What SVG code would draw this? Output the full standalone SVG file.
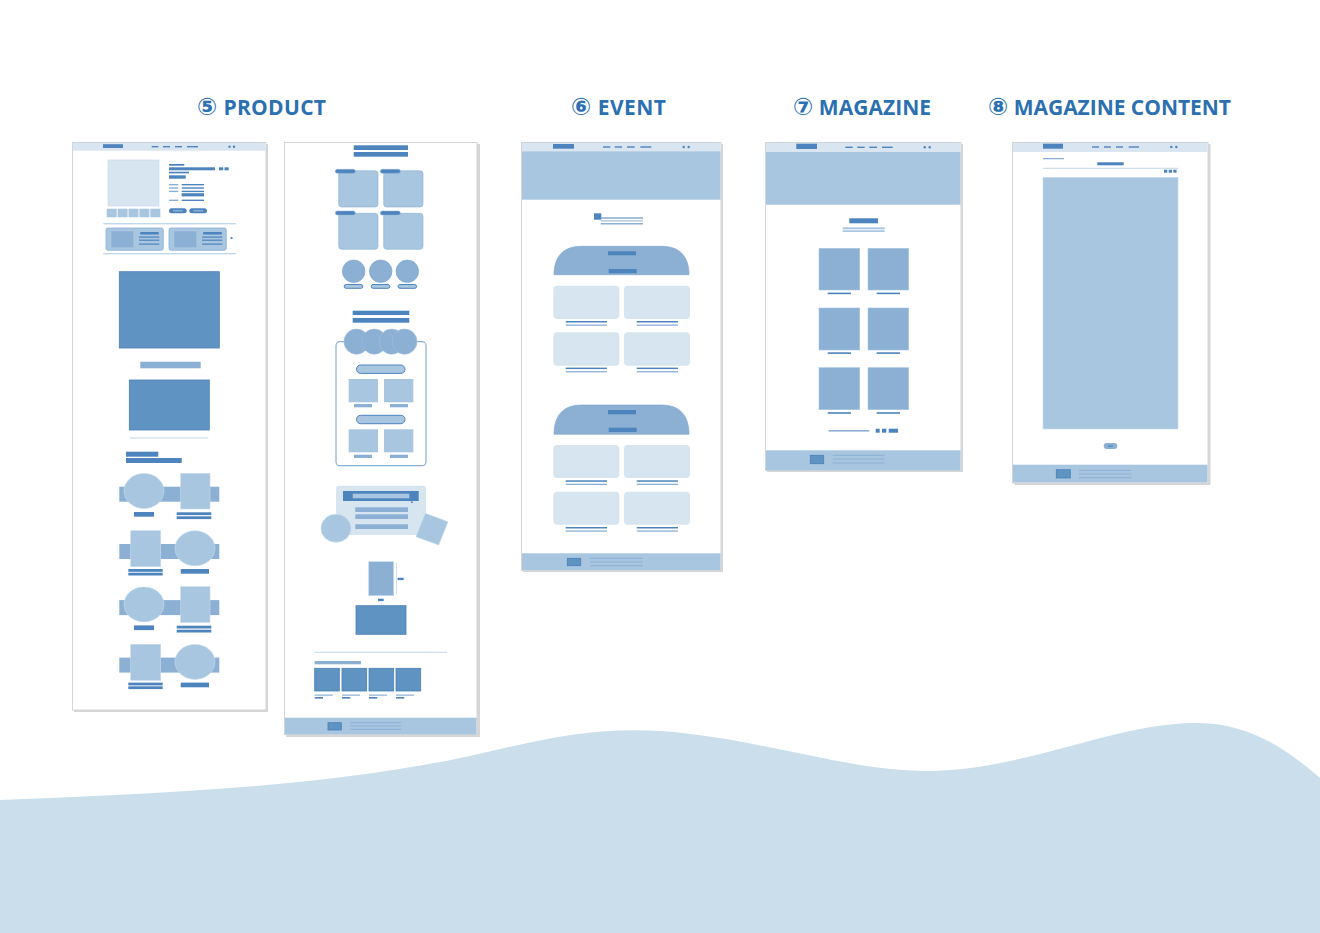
<svg xmlns="http://www.w3.org/2000/svg" width="1320" height="933" viewBox="0 0 1320 933">
  <style>
    .title { font-family: "Open Sans", "DejaVu Sans", sans-serif; font-weight: 700; font-size: 21px; fill: #2b70b0; }
    .num { font-family: "DejaVu Sans", sans-serif; font-size: 24px; font-weight: 700; }
    .shadow { fill: #d6d6d6; }
    .frame { fill: #ffffff; stroke: #d2d6da; stroke-width: 1; }
    .hd { fill: #d9e6f2; }
    .dk { fill: #4e84bd; }
    .dk2 { fill: #5f93c2; stroke: #4a80b9; stroke-width: 0.8; }
    .md { fill: #8cb0d4; }
    .lt { fill: #a8c6e0; }
    .vl { fill: #d7e5f1; }
    .foot { fill: #a8c6e0; }
    .rule { fill: #c2d7ea; }
    .pill { fill: #a8c6e0; stroke: #4e84bd; stroke-width: 1; }
  </style>

  <!-- background wave -->
  <path d="M0,800 C150,794 320,788 470,756 C540,740 590,727 660,731 C760,738 850,772 930,771 C1030,769 1110,724 1195,723 C1250,722 1290,752 1320,778 L1320,933 L0,933 Z" fill="#cadeeb"/>

  <!-- section titles -->
  <text class="title" x="197" y="115" textLength="129" lengthAdjust="spacing"><tspan class="num">⑤</tspan> PRODUCT</text>
  <text class="title" x="571" y="115" textLength="95" lengthAdjust="spacing"><tspan class="num">⑥</tspan> EVENT</text>
  <text class="title" x="793" y="115" textLength="138" lengthAdjust="spacing"><tspan class="num">⑦</tspan> MAGAZINE</text>
  <text class="title" x="988" y="115" textLength="243" lengthAdjust="spacing"><tspan class="num">⑧</tspan> MAGAZINE CONTENT</text>

  <!-- PRODUCT : detail page -->
  <g id="product-detail">
    <rect class="shadow" x="74" y="144" width="194" height="568"/>
    <rect class="frame" x="72.5" y="142.5" width="193.5" height="567.5"/>
    <rect class="hd" x="73" y="143" width="192.5" height="7.7"/>
    <rect class="dk" x="103" y="144.2" width="20" height="3.8"/>
    <rect class="dk" x="151.7" y="146" width="6.6" height="1.4"/>
    <rect class="dk" x="163" y="146" width="7" height="1.4"/>
    <rect class="dk" x="175" y="146" width="7" height="1.4"/>
    <rect class="dk" x="187" y="146" width="11" height="1.4"/>
    <circle class="dk" cx="229.5" cy="146.7" r="1.2"/>
    <circle class="dk" cx="234" cy="146.7" r="1.2"/>
    <!-- gallery -->
    <rect class="vl" x="108" y="160" width="51" height="46" stroke="#c4d8ea" stroke-width="0.6"/>
    <rect class="lt" x="106.7" y="208.7" width="10" height="8.6"/>
    <rect class="lt" x="117.6" y="208.7" width="10" height="8.6"/>
    <rect class="lt" x="128.5" y="208.7" width="10" height="8.6"/>
    <rect class="lt" x="139.4" y="208.7" width="10" height="8.6"/>
    <rect class="lt" x="150.3" y="208.7" width="10" height="8.6"/>
    <!-- info column -->
    <rect class="dk" x="169" y="164" width="15.3" height="1.7"/>
    <rect class="dk" x="169" y="167.3" width="46" height="3"/>
    <rect class="dk" x="219" y="167.3" width="4.2" height="3"/>
    <rect class="dk" x="224.5" y="167.3" width="4.2" height="3"/>
    <rect class="dk" x="169" y="171.7" width="20" height="1.7"/>
    <rect class="dk" x="169" y="175.3" width="16.7" height="3.4"/>
    <rect class="md" x="169" y="184" width="9.3" height="1.4"/>
    <rect class="dk" x="181.7" y="184" width="22.3" height="1.4"/>
    <rect class="md" x="169" y="187.3" width="9.3" height="1.4"/>
    <rect class="dk" x="181.7" y="187.3" width="22.3" height="1.4"/>
    <rect class="md" x="169" y="190.7" width="9.3" height="1.4"/>
    <rect class="dk" x="181.7" y="190.7" width="22.3" height="1.4"/>
    <rect class="dk" x="181.7" y="193.2" width="22.3" height="3.2"/>
    <rect class="md" x="169" y="199.6" width="9.3" height="1.4"/>
    <rect class="dk" x="181.7" y="199.6" width="22.3" height="1.4"/>
    <rect class="dk" x="169" y="208.3" width="17.7" height="5" rx="2.5"/>
    <rect class="lt" x="173" y="210.3" width="9.7" height="1"/>
    <rect class="dk" x="189.3" y="208.3" width="17.7" height="5" rx="2.5"/>
    <rect class="lt" x="193.3" y="210.3" width="9.7" height="1"/>
    <!-- related cards -->
    <rect class="rule" x="103.3" y="223" width="132.4" height="1.4"/>
    <rect class="lt" x="106" y="228" width="57.3" height="22.3" rx="2" stroke="#8cb0d4" stroke-width="0.8"/>
    <rect class="md" x="111.3" y="231.3" width="22" height="16"/>
    <rect class="dk" x="140" y="232" width="19" height="2.4" rx="1.2"/>
    <rect class="dk" x="139" y="236.5" width="20.3" height="1.2"/>
    <rect class="dk" x="139" y="239.6" width="20.3" height="1.2"/>
    <rect class="dk" x="139" y="243.5" width="20.3" height="1.2"/>
    <rect class="lt" x="169" y="228" width="57.3" height="22.3" rx="2" stroke="#8cb0d4" stroke-width="0.8"/>
    <rect class="md" x="174.3" y="231.3" width="22" height="16"/>
    <rect class="dk" x="203" y="232" width="19" height="2.4" rx="1.2"/>
    <rect class="dk" x="202" y="236.5" width="20.3" height="1.2"/>
    <rect class="dk" x="202" y="239.6" width="20.3" height="1.2"/>
    <rect class="dk" x="202" y="243.5" width="20.3" height="1.2"/>
    <polygon class="dk" points="230.6,236.4 233.4,238 230.6,239.6"/>
    <rect class="rule" x="103.3" y="253" width="132.4" height="1.4"/>
    <!-- feature visuals -->
    <rect class="dk2" x="119.3" y="271.7" width="100" height="76.3"/>
    <rect class="md" x="140.3" y="361.7" width="60.4" height="6.6"/>
    <rect class="dk2" x="129.3" y="380" width="80" height="50"/>
    <rect class="rule" x="130" y="437.5" width="78.3" height="1"/>
    <rect class="dk" x="126" y="451.7" width="32.3" height="5"/>
    <rect class="dk" x="126" y="458" width="55.7" height="5"/>
    <!-- alternating feature rows -->
    <g id="feature-rows-a">
      <rect class="md" x="119.3" y="486.7" width="100" height="15"/>
      <ellipse class="lt" cx="144" cy="491" rx="20" ry="17.5" stroke="#c6dbee" stroke-width="0.6"/>
      <rect class="lt" x="180.7" y="473.3" width="29.3" height="35.7" stroke="#c6dbee" stroke-width="0.6"/>
      <rect class="dk" x="134" y="512" width="20" height="4.7"/>
      <rect class="dk" x="176.7" y="512.3" width="34.6" height="2.8"/>
      <rect class="dk" x="176.7" y="516.3" width="34.6" height="2.8"/>
    </g>
    <g id="feature-rows-b">
      <rect class="md" x="119.3" y="544" width="100" height="15"/>
      <rect class="lt" x="130.7" y="530.7" width="30" height="36" stroke="#c6dbee" stroke-width="0.6"/>
      <ellipse class="lt" cx="195" cy="548.3" rx="20" ry="17.5" stroke="#c6dbee" stroke-width="0.6"/>
      <rect class="dk" x="128.3" y="569" width="34.4" height="2.8"/>
      <rect class="dk" x="128.3" y="572.7" width="34.4" height="2.8"/>
      <rect class="dk" x="180.7" y="569" width="28.3" height="4.7"/>
    </g>
    <g transform="translate(0,113.4)">
      <rect class="md" x="119.3" y="486.7" width="100" height="15"/>
      <ellipse class="lt" cx="144" cy="491" rx="20" ry="17.5" stroke="#c6dbee" stroke-width="0.6"/>
      <rect class="lt" x="180.7" y="473.3" width="29.3" height="35.7" stroke="#c6dbee" stroke-width="0.6"/>
      <rect class="dk" x="134" y="512" width="20" height="4.7"/>
      <rect class="dk" x="176.7" y="512.3" width="34.6" height="2.8"/>
      <rect class="dk" x="176.7" y="516.3" width="34.6" height="2.8"/>
    </g>
    <g transform="translate(0,113.6)">
      <rect class="md" x="119.3" y="544" width="100" height="15"/>
      <rect class="lt" x="130.7" y="530.7" width="30" height="36" stroke="#c6dbee" stroke-width="0.6"/>
      <ellipse class="lt" cx="195" cy="548.3" rx="20" ry="17.5" stroke="#c6dbee" stroke-width="0.6"/>
      <rect class="dk" x="128.3" y="569" width="34.4" height="2.8"/>
      <rect class="dk" x="128.3" y="572.7" width="34.4" height="2.8"/>
      <rect class="dk" x="180.7" y="569" width="28.3" height="4.7"/>
    </g>
  </g>

  <!-- PRODUCT : category page -->
  <g id="product-category">
    <rect class="shadow" x="286" y="144" width="194" height="593"/>
    <rect class="frame" x="284.5" y="142.5" width="192.5" height="592"/>
    <rect class="dk" x="353.7" y="145.3" width="54.3" height="4.7"/>
    <rect class="dk" x="353.7" y="152" width="54.3" height="4.7"/>
    <!-- category tiles -->
    <rect class="lt" x="338.7" y="170.7" width="39.3" height="36.3" rx="3" stroke="#8cb0d4" stroke-width="0.6"/>
    <rect class="lt" x="383.7" y="170.7" width="39.3" height="36.3" rx="3" stroke="#8cb0d4" stroke-width="0.6"/>
    <rect class="lt" x="338.7" y="213.3" width="39.3" height="36" rx="3" stroke="#8cb0d4" stroke-width="0.6"/>
    <rect class="lt" x="383.7" y="213.3" width="39.3" height="36" rx="3" stroke="#8cb0d4" stroke-width="0.6"/>
    <rect class="dk" x="335.3" y="169.3" width="20" height="4" rx="2" stroke="#8cb0d4" stroke-width="0.5"/>
    <rect class="dk" x="380.3" y="169.3" width="20" height="4" rx="2" stroke="#8cb0d4" stroke-width="0.5"/>
    <rect class="dk" x="335.3" y="211" width="20" height="4" rx="2" stroke="#8cb0d4" stroke-width="0.5"/>
    <rect class="dk" x="380.3" y="211" width="20" height="4" rx="2" stroke="#8cb0d4" stroke-width="0.5"/>
    <!-- round shortcuts -->
    <circle class="md" cx="353.7" cy="271.3" r="11.3" stroke="#7aa3cc" stroke-width="0.6"/>
    <circle class="md" cx="380.7" cy="271.3" r="11.3" stroke="#7aa3cc" stroke-width="0.6"/>
    <circle class="md" cx="407.3" cy="271.3" r="11.3" stroke="#7aa3cc" stroke-width="0.6"/>
    <rect class="pill" x="344.2" y="284.5" width="18.6" height="3.8" rx="1.9"/>
    <rect class="pill" x="371.2" y="284.5" width="18.6" height="3.8" rx="1.9"/>
    <rect class="pill" x="398" y="284.5" width="18.6" height="3.8" rx="1.9"/>
    <!-- tabbed product box -->
    <rect class="dk" x="352.7" y="310.7" width="56.6" height="4.3"/>
    <rect class="dk" x="352.7" y="318" width="56.6" height="4.7"/>
    <rect x="336" y="341.7" width="90" height="124" rx="4" fill="#ffffff" stroke="#8cb0d4" stroke-width="1.2"/>
    <ellipse class="md" cx="356.5" cy="341.6" rx="12.5" ry="12.6" stroke="#9dbcdc" stroke-width="0.6"/>
    <ellipse class="md" cx="374.3" cy="341.6" rx="12.5" ry="12.6" stroke="#9dbcdc" stroke-width="0.6"/>
    <ellipse class="md" cx="391.7" cy="341.6" rx="12.5" ry="12.6" stroke="#9dbcdc" stroke-width="0.6"/>
    <ellipse class="md" cx="404.5" cy="341.6" rx="12.5" ry="12.6" stroke="#9dbcdc" stroke-width="0.6"/>
    <rect class="pill" x="356.5" y="365" width="48.5" height="8.4" rx="4.2" stroke-width="1.6"/>
    <rect class="lt" x="348.7" y="379" width="29.3" height="23.3"/>
    <rect class="lt" x="384" y="379" width="29.3" height="23.3"/>
    <rect class="md" x="354" y="404" width="18" height="3.3"/>
    <rect class="md" x="390" y="404" width="18" height="3.3"/>
    <rect class="pill" x="356.5" y="415.3" width="48.5" height="8.4" rx="4.2" stroke-width="1.6"/>
    <rect class="lt" x="348.7" y="429.3" width="29.3" height="23"/>
    <rect class="lt" x="384" y="429.3" width="29.3" height="23"/>
    <rect class="md" x="354" y="454.7" width="18" height="3.3"/>
    <rect class="md" x="390" y="454.7" width="18" height="3.3"/>
    <!-- search panel -->
    <rect class="vl" x="336" y="485.7" width="90" height="49.3" rx="3"/>
    <rect class="dk" x="343" y="491" width="75.7" height="10"/>
    <rect class="lt" x="352.7" y="493.7" width="56.6" height="4.6"/>
    <polygon class="dk" points="410.5,500.5 413.5,502.5 411.5,503.3"/>
    <rect class="md" x="355.3" y="507.3" width="52.7" height="4.7"/>
    <rect class="md" x="355.3" y="514.3" width="52.7" height="4.7"/>
    <rect class="md" x="355.3" y="524.3" width="52.7" height="4.7"/>
    <ellipse class="lt" cx="336" cy="528.3" rx="15" ry="14" stroke="#c6dbee" stroke-width="0.6"/>
    <polygon class="lt" points="425.3,513.3 448,521.7 438.7,545 416,536.7" stroke="#c6dbee" stroke-width="0.6"/>
    <!-- product spotlight -->
    <rect class="md" x="368.7" y="561.7" width="25" height="34" stroke="#c6dbee" stroke-width="0.6"/>
    <rect class="rule" x="396" y="563" width="0.8" height="31"/>
    <rect class="dk" x="397.7" y="577.7" width="6" height="2.4"/>
    <rect class="dk" x="378" y="598.7" width="5.7" height="2.4"/>
    <rect class="dk2" x="356" y="605.7" width="50" height="28.6"/>
    <rect class="rule" x="314.7" y="651.8" width="132.3" height="1"/>
    <rect class="md" x="314.7" y="661" width="46.3" height="3.3"/>
    <rect class="dk2" x="314.7" y="668.3" width="24.6" height="22.7"/>
    <rect class="dk2" x="342" y="668.3" width="24.7" height="22.7"/>
    <rect class="dk2" x="369" y="668.3" width="24.7" height="22.7"/>
    <rect class="dk2" x="396" y="668.3" width="24.7" height="22.7"/>
    <rect class="md" x="314.7" y="694.5" width="18" height="1.2"/>
    <rect class="md" x="342" y="694.5" width="18" height="1.2"/>
    <rect class="md" x="369" y="694.5" width="18" height="1.2"/>
    <rect class="md" x="396" y="694.5" width="18" height="1.2"/>
    <rect class="dk" x="314.7" y="697" width="8.3" height="1.6"/>
    <rect class="dk" x="342" y="697" width="8.3" height="1.6"/>
    <rect class="dk" x="369" y="697" width="8.3" height="1.6"/>
    <rect class="dk" x="396" y="697" width="8.3" height="1.6"/>
    <!-- footer -->
    <rect class="foot" x="285" y="717.7" width="191.5" height="16.6"/>
    <rect class="dk2" x="328" y="722.7" width="13.3" height="7.3"/>
    <rect class="md" x="350.3" y="722.2" width="51" height="1"/>
    <rect class="md" x="350.3" y="725.5" width="51" height="1"/>
    <rect class="md" x="350.3" y="728.8" width="51" height="1"/>
  </g>

  <!-- EVENT page -->
  <g id="event">
    <rect class="shadow" x="523" y="144" width="200" height="428"/>
    <rect class="frame" x="521.5" y="142.5" width="199.5" height="428"/>
    <rect class="hd" x="522" y="143" width="198.5" height="8.5"/>
    <rect class="dk" x="553" y="144" width="21" height="4.7"/>
    <rect class="dk" x="603" y="146.3" width="7.3" height="1.4"/>
    <rect class="dk" x="614.7" y="146.3" width="7.3" height="1.4"/>
    <rect class="dk" x="627" y="146.3" width="7.7" height="1.4"/>
    <rect class="dk" x="640.3" y="146.3" width="11" height="1.4"/>
    <circle class="dk" cx="683.7" cy="147" r="1.2"/>
    <circle class="dk" cx="688.7" cy="147" r="1.2"/>
    <rect class="lt" x="522" y="151.3" width="198.5" height="48.4"/>
    <!-- intro -->
    <rect class="dk" x="594" y="213.3" width="7.3" height="6.4"/>
    <rect class="md" x="600.7" y="217.2" width="42.3" height="1.6"/>
    <rect class="md" x="600.7" y="220.4" width="42.3" height="1"/>
    <rect class="md" x="600.7" y="223" width="42.3" height="1.5"/>
    <!-- first event block -->
    <path class="md" d="M554,274.7 C554,257 563,246.3 581,246.3 L662,246.3 C680,246.3 689,257 689,274.7 Z" stroke="#7aa3cc" stroke-width="0.6"/>
    <rect class="dk" x="608" y="251.3" width="28" height="4"/>
    <rect class="dk" x="608.7" y="269" width="28" height="4.3"/>
    <rect class="vl" x="553.3" y="285.7" width="66" height="33.3" rx="4"/>
    <rect class="vl" x="624" y="285.7" width="66" height="33.3" rx="4"/>
    <rect class="dk" x="565.7" y="321" width="41.3" height="1.5"/>
    <rect class="md" x="565.7" y="324.5" width="41.3" height="1.3"/>
    <rect class="dk" x="636.7" y="321" width="41.3" height="1.5"/>
    <rect class="md" x="636.7" y="324.5" width="41.3" height="1.3"/>
    <rect class="vl" x="553.3" y="332.3" width="66" height="33.4" rx="4"/>
    <rect class="vl" x="624" y="332.3" width="66" height="33.4" rx="4"/>
    <rect class="dk" x="565.7" y="367.6" width="41.3" height="1.5"/>
    <rect class="md" x="565.7" y="371.1" width="41.3" height="1.3"/>
    <rect class="dk" x="636.7" y="367.6" width="41.3" height="1.5"/>
    <rect class="md" x="636.7" y="371.1" width="41.3" height="1.3"/>
    <!-- second event block -->
    <path class="md" d="M554,434.3 C554,416 563,405 581,405 L662,405 C680,405 689,416 689,434.3 Z" stroke="#7aa3cc" stroke-width="0.6"/>
    <rect class="dk" x="608" y="410" width="28" height="4.3"/>
    <rect class="dk" x="608.7" y="427.7" width="28" height="4.3"/>
    <rect class="vl" x="553.3" y="445" width="66" height="33" rx="4"/>
    <rect class="vl" x="624" y="445" width="66" height="33" rx="4"/>
    <rect class="dk" x="565.7" y="480.3" width="41.3" height="1.5"/>
    <rect class="md" x="565.7" y="483.7" width="41.3" height="1.3"/>
    <rect class="dk" x="636.7" y="480.3" width="41.3" height="1.5"/>
    <rect class="md" x="636.7" y="483.7" width="41.3" height="1.3"/>
    <rect class="vl" x="553.3" y="491.7" width="66" height="33" rx="4"/>
    <rect class="vl" x="624" y="491.7" width="66" height="33" rx="4"/>
    <rect class="dk" x="565.7" y="527" width="41.3" height="1.5"/>
    <rect class="md" x="565.7" y="530.4" width="41.3" height="1.3"/>
    <rect class="dk" x="636.7" y="527" width="41.3" height="1.5"/>
    <rect class="md" x="636.7" y="530.4" width="41.3" height="1.3"/>
    <!-- footer -->
    <rect class="foot" x="522" y="553.3" width="198.5" height="16.7"/>
    <rect class="dk2" x="567.3" y="558.3" width="13.4" height="7.4"/>
    <rect class="md" x="590" y="557.8" width="53" height="1"/>
    <rect class="md" x="590" y="561.5" width="53" height="1"/>
    <rect class="md" x="590" y="565.2" width="53" height="1"/>
  </g>

  <!-- MAGAZINE list page -->
  <g id="magazine">
    <rect class="shadow" x="767" y="144" width="196" height="328"/>
    <rect class="frame" x="765.5" y="142.5" width="195.5" height="328"/>
    <rect class="hd" x="766" y="143" width="194.5" height="9"/>
    <rect class="dk" x="796.3" y="143.7" width="20.7" height="5.3"/>
    <rect class="dk" x="845.3" y="146.6" width="7.4" height="1.4"/>
    <rect class="dk" x="857.3" y="146.6" width="7.4" height="1.4"/>
    <rect class="dk" x="869.3" y="146.6" width="7.7" height="1.4"/>
    <rect class="dk" x="882" y="146.6" width="10.7" height="1.4"/>
    <circle class="dk" cx="924.7" cy="147.3" r="1.2"/>
    <circle class="dk" cx="929.7" cy="147.3" r="1.2"/>
    <rect class="lt" x="766" y="152" width="194.5" height="52.7"/>
    <rect class="dk" x="849.3" y="218.3" width="28.7" height="5"/>
    <rect class="lt" x="842.7" y="227.3" width="42" height="2"/>
    <rect class="lt" x="842.7" y="230.3" width="42" height="1.7"/>
    <!-- article grid -->
    <rect class="md" x="819" y="248.3" width="40.7" height="41.7" stroke="#a8c6e0" stroke-width="0.6"/>
    <rect class="md" x="868" y="248.3" width="40.7" height="41.7" stroke="#a8c6e0" stroke-width="0.6"/>
    <rect class="md" x="819" y="308" width="40.7" height="42" stroke="#a8c6e0" stroke-width="0.6"/>
    <rect class="md" x="868" y="308" width="40.7" height="42" stroke="#a8c6e0" stroke-width="0.6"/>
    <rect class="md" x="819" y="367.7" width="40.7" height="42" stroke="#a8c6e0" stroke-width="0.6"/>
    <rect class="md" x="868" y="367.7" width="40.7" height="42" stroke="#a8c6e0" stroke-width="0.6"/>
    <rect class="dk" x="827.7" y="292.6" width="23.3" height="1.6"/>
    <rect class="dk" x="876.7" y="292.6" width="23.3" height="1.6"/>
    <rect class="dk" x="827.7" y="352.3" width="23.3" height="1.6"/>
    <rect class="dk" x="876.7" y="352.3" width="23.3" height="1.6"/>
    <rect class="dk" x="827.7" y="412.2" width="23.3" height="1.6"/>
    <rect class="dk" x="876.7" y="412.2" width="23.3" height="1.6"/>
    <!-- pagination -->
    <rect class="md" x="828.7" y="430" width="40.6" height="1.6"/>
    <rect class="dk" x="875.7" y="428.7" width="4" height="4"/>
    <rect class="dk" x="882" y="428.7" width="4.3" height="4"/>
    <rect class="dk" x="888.7" y="428.7" width="9.3" height="4"/>
    <!-- footer -->
    <rect class="foot" x="766" y="450.3" width="194.5" height="20"/>
    <rect class="dk2" x="810.3" y="455.3" width="13.4" height="8.4"/>
    <rect class="md" x="832.7" y="454.8" width="52" height="1"/>
    <rect class="md" x="832.7" y="458.5" width="52" height="1"/>
    <rect class="md" x="832.7" y="462.5" width="52" height="1"/>
  </g>

  <!-- MAGAZINE CONTENT page -->
  <g id="magazine-content">
    <rect class="shadow" x="1014.5" y="144" width="196" height="341"/>
    <rect class="frame" x="1012.5" y="142.5" width="195.5" height="340.5"/>
    <rect class="hd" x="1013" y="143" width="194.5" height="9"/>
    <rect class="dk" x="1043" y="143.7" width="20" height="5"/>
    <rect class="dk" x="1092" y="146.3" width="7" height="1.4"/>
    <rect class="dk" x="1104" y="146.3" width="7" height="1.4"/>
    <rect class="dk" x="1116" y="146.3" width="7" height="1.4"/>
    <rect class="dk" x="1128.7" y="146.3" width="10.3" height="1.4"/>
    <circle class="dk" cx="1171.3" cy="147" r="1.2"/>
    <circle class="dk" cx="1176.3" cy="147" r="1.2"/>
    <rect class="md" x="1043" y="158" width="21" height="1.3"/>
    <rect class="dk" x="1097.3" y="162.3" width="26.4" height="3"/>
    <rect class="rule" x="1043" y="167.8" width="135" height="1"/>
    <rect class="dk" x="1164" y="169.7" width="3.3" height="3"/>
    <rect class="dk" x="1168.7" y="169.7" width="3.3" height="3"/>
    <rect class="dk" x="1173.3" y="169.7" width="3.3" height="3"/>
    <rect class="lt" x="1043" y="177.3" width="135" height="251.7" stroke="#c6dbee" stroke-width="0.6"/>
    <rect class="md" x="1103.7" y="443" width="13.6" height="6" rx="3"/>
    <rect class="dk" x="1108" y="445.5" width="5" height="1.2"/>
    <!-- footer -->
    <rect class="foot" x="1013" y="464.7" width="194.5" height="17.8"/>
    <rect class="dk2" x="1056.3" y="469.7" width="14" height="8.3"/>
    <rect class="md" x="1079" y="469.8" width="52.3" height="1"/>
    <rect class="md" x="1079" y="473.5" width="52.3" height="1"/>
    <rect class="md" x="1079" y="477.2" width="52.3" height="1"/>
  </g>
</svg>
